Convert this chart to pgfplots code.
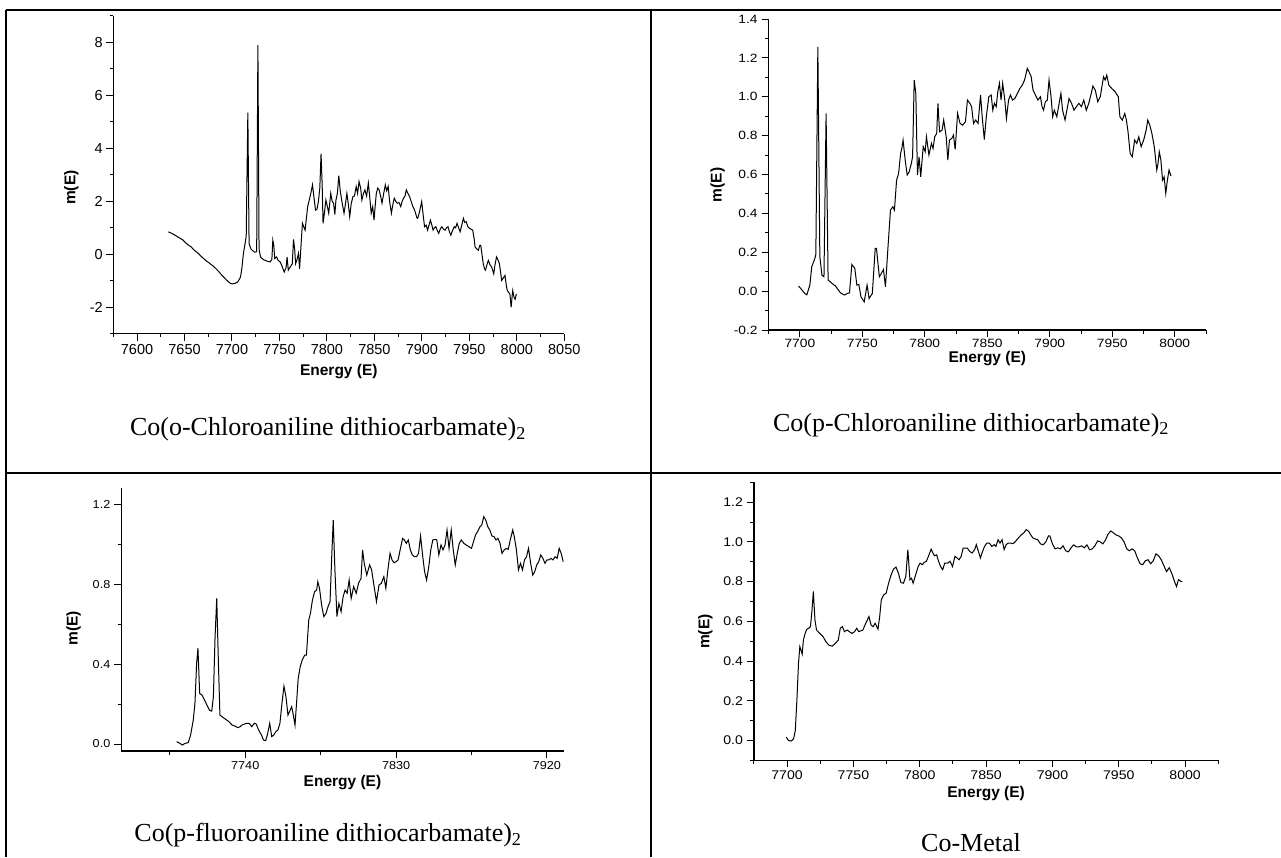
\documentclass[border=0pt]{standalone}
\usepackage{fontspec}
\setmainfont{Liberation Serif}
\newfontfamily\arial{Liberation Sans}
\usepackage{pgfplots}
\pgfplotsset{compat=1.18}

\newcommand\tickfont{\arial\fontsize{14.5}{16}\selectfont}
\newcommand\labfont{\arial\bfseries\fontsize{15.5}{17}\selectfont}
\newcommand\capfont{\fontsize{26}{30}\selectfont}

\pgfplotsset{
  xas/.style={
    scale only axis,
    axis lines=left,
    axis line style={-, line width=1.2pt},
    tick align=outside,
    major tick length=7pt,
    minor tick length=3.5pt,
    every tick/.style={black, line width=1pt},
    tick label style={font=\tickfont},
    /pgf/number format/assume math mode=true,
    xticklabel style={/pgf/number format/set thousands separator={}},
  },
  onedec/.style={yticklabel style={/pgf/number format/.cd, fixed, fixed zerofill, precision=1}},
  spec/.style={black, line width=1pt, mark=none},
}

\begin{document}
\begin{tikzpicture}
\useasboundingbox (0pt,0pt) rectangle (1281pt,-857pt);

% table rules
\draw[line width=2pt] (5.5pt,-9.5pt) -- (1281pt,-9.5pt);
\draw[line width=2pt] (5.5pt,-9.5pt) -- (5.5pt,-857pt);
\draw[line width=2pt] (651pt,-9.5pt) -- (651pt,-857pt);
\draw[line width=2pt] (5.5pt,-472.7pt) -- (1281pt,-472.7pt);

% (a) o-chloro
\begin{axis}[xas, at={(113.3pt,-333.7pt)}, anchor=south west, width=451pt, height=317.7pt,
  xmin=7575, xmax=8050, ymin=-3, ymax=9,
  xtick={7600,7650,...,8050}, minor xtick={7575,7625,...,8025},
  ytick={-2,0,...,8}, minor ytick={-3,-1,...,9}]
\addplot[spec] coordinates {
(7633,0.85)(7637,0.78)(7641,0.7)(7644,0.63)(7648,0.55)(7651,0.44)(7654,0.35)(7657,0.28)(7660,0.16)(7664,0.05)
(7667,-0.06)(7670,-0.16)(7673,-0.25)(7676,-0.33)(7680,-0.44)(7683,-0.54)(7686,-0.65)(7688,-0.74)(7691,-0.85)(7693,-0.93)
(7696,-1.03)(7698,-1.09)(7700,-1.12)(7703,-1.1)(7706,-1.05)(7709,-0.86)(7710.5,-0.5)(7712,0.03)(7714,0.45)(7715,0.7)
(7716.7,5.35)(7718,0.4)(7720,0.2)(7722,0.13)(7724,0.08)(7726,0.1)(7727.3,7.9)(7728.5,0.2)(7730,-0.1)(7733,-0.2)
(7737,-0.26)(7740,-0.29)(7742,-0.2)(7743,0.53)(7744,0.35)(7745,-0.16)(7747,-0.1)(7748.6,-0.23)(7751,-0.3)(7753,-0.48)
(7755,-0.67)(7757,-0.5)(7758,-0.1)(7759.3,-0.6)(7761,-0.5)(7763.5,-0.36)(7764.8,0.56)(7766,0.2)(7767,-0.35)(7768.5,-0.2)
(7770,0.03)(7771.2,-0.55)(7773,0.5)(7774.2,1.17)(7776,1.0)(7777,0.91)(7778.5,1.4)(7779.7,1.8)(7781.4,2.05)(7783,2.3)
(7784.8,2.62)(7786.5,2.1)(7788,1.67)(7789.5,1.7)(7791,1.99)(7792.5,2.5)(7793.8,3.8)(7795,2.6)(7795.9,1.17)(7797.5,1.6)
(7798.9,2.05)(7800.5,1.8)(7801.9,1.55)(7804,2.3)(7805.5,2.0)(7807,1.93)(7808.3,1.5)(7809.5,2.05)(7811,2.3)(7812.5,2.97)
(7814,2.4)(7815.5,2.05)(7818,1.55)(7819.5,1.9)(7821,2.3)(7822.5,1.9)(7824,1.42)(7825.5,1.9)(7827.4,2.18)(7829,2.2)
(7830.8,2.56)(7832.3,2.3)(7833.8,2.75)(7835.5,2.5)(7836.8,2.05)(7838.5,2.3)(7840,2.43)(7841.8,2.2)(7843.6,2.69)(7845,2.2)
(7846.6,1.55)(7848.2,1.8)(7849.6,1.29)(7851,1.9)(7852,2.3)(7853.5,2.5)(7855,2.43)(7856.5,2.2)(7858,1.93)(7859.8,2.3)
(7861.5,2.62)(7863,2.4)(7864.5,2.56)(7866,2.0)(7867.9,1.55)(7869.5,1.9)(7870.9,2.12)(7872.5,2.0)(7874,1.93)(7876,1.95)
(7877.7,1.8)(7879.2,2.0)(7880.7,2.12)(7882.2,2.2)(7883.6,2.43)(7885.3,2.3)(7887,2.18)(7888.7,2.0)(7890.5,1.8)(7892,1.7)
(7893.4,1.55)(7894.5,1.4)(7895.6,1.36)(7897.5,1.6)(7899.8,1.99)(7901.3,1.5)(7902.8,1.04)(7904.5,1.1)(7906,0.91)(7907.5,1.1)
(7909,1.29)(7910.5,1.1)(7911.8,0.91)(7913.2,1.0)(7914.7,1.04)(7916.2,0.9)(7917.7,0.79)(7919.3,0.95)(7921,1.04)(7922.8,0.95)
(7924.5,0.91)(7926,1.0)(7927.5,1.04)(7929,0.85)(7930.5,0.72)(7932.3,0.9)(7934,1.04)(7935.5,1.0)(7937,1.17)(7938.7,1.0)
(7940.3,0.85)(7942,1.1)(7943.7,1.36)(7945.2,1.2)(7946.7,1.23)(7948.3,1.05)(7950,0.98)(7951.8,0.95)(7953.5,0.91)(7955,0.6)
(7956,0.28)(7957.8,0.2)(7959.5,0.15)(7961,0.34)(7962,0.34)(7963.3,0.0)(7964.6,-0.35)(7966,-0.55)(7967,-0.6)(7968.5,-0.4)
(7970,-0.23)(7971.8,-0.4)(7973.5,-0.48)(7975.7,-0.74)(7977,-0.4)(7978.6,-0.1)(7980,-0.2)(7981.6,-0.35)(7983,-0.7)(7984,-0.99)
(7985.7,-0.9)(7987.5,-0.8)(7989,-1.2)(7990,-1.37)(7991.5,-1.45)(7992.7,-1.5)(7994,-2.0)(7995,-1.6)(7995.7,-1.37)(7997,-1.62)
(7998.2,-1.7)(7999.5,-1.5)
};
\end{axis}

% (b) p-chloro
\begin{axis}[xas, onedec, at={(768.6pt,-330pt)}, anchor=south west, width=437.4pt, height=311pt,
  xmin=7675, xmax=8025, ymin=-0.2, ymax=1.4,
  xtick={7700,7750,...,8000}, minor xtick={7675,7725,...,8025},
  ytick={-0.2,0,...,1.4}, minor ytick={-0.1,0.1,...,1.3},
  tick label style={font=\arial\fontsize{12}{13}\selectfont, xscale=1.15},
  xticklabel style={yshift=1.5pt}]
\addplot[spec] coordinates {
(7699,0.026)(7701.3,0.009)(7704,-0.012)(7705.6,-0.019)(7708,0.031)(7709.5,0.125)(7712,0.168)(7712.8,0.19)(7714.4,1.257)(7716,0.177)
(7717.7,0.082)(7719.3,0.074)(7721,0.914)(7722.6,0.057)(7725.2,0.043)(7728.5,0.026)(7732.5,-0.009)(7735.7,-0.02)(7738,-0.012)(7739.7,-0.009)
(7741.6,0.137)(7744,0.117)(7745.6,0.031)(7747.2,0.034)(7748.9,-0.029)(7751.5,-0.055)(7753.8,0.031)(7755.4,-0.038)(7758,-0.012)(7760.3,0.22)
(7761.3,0.22)(7763.6,0.074)(7765.2,0.091)(7766.9,0.111)(7768.5,0.022)(7770.2,0.194)(7772.5,0.417)(7774.4,0.434)(7775.7,0.417)(7777.4,0.571)
(7779,0.605)(7780.6,0.708)(7781.6,0.734)(7782.6,0.777)(7784.3,0.674)(7785.9,0.597)(7787.5,0.614)(7789.2,0.657)(7790.2,0.691)(7791.5,1.086)
(7792.8,1.017)(7794.1,0.597)(7795.4,0.691)(7796.7,0.588)(7798.7,0.743)(7800.3,0.717)(7801.3,0.794)(7803.3,0.7)(7805.3,0.76)(7806.6,0.734)
(7807.9,0.794)(7809.5,0.811)(7810.5,0.966)(7811.8,0.82)(7813.8,0.828)(7815.1,0.88)(7817.1,0.794)(7818.4,0.674)(7819.7,0.777)(7821.6,0.786)
(7822.9,0.803)(7824.3,0.729)(7826.2,0.914)(7828.2,0.863)(7830.2,0.854)(7832.5,0.871)(7834.1,0.983)(7836.1,0.966)(7837.4,0.949)(7839,0.863)
(7840.7,0.88)(7842.6,0.863)(7844.6,1.009)(7845.9,0.897)(7847.6,0.78)(7849.2,0.897)(7851.2,1.0)(7853.1,1.009)(7854.4,0.931)(7855.7,0.966)
(7857.1,0.949)(7858.4,1.026)(7859.7,1.069)(7861,0.983)(7862.3,1.069)(7864,0.983)(7865.3,0.888)(7867,0.983)(7868.5,1.009)(7870.2,0.983)
(7872.1,0.991)(7874.1,1.017)(7876.1,1.043)(7878,1.06)(7879.8,1.086)(7882,1.146)(7883.3,1.129)(7885,1.106)(7886.6,1.034)(7888.5,1.009)
(7890.5,0.983)(7892.5,1.0)(7893.8,0.949)(7895,0.931)(7896.4,0.974)(7898,0.983)(7899.4,1.086)(7901,1.0)(7902.3,0.897)(7903.6,0.931)
(7905.6,0.897)(7907.5,0.966)(7908.9,1.017)(7910.2,0.931)(7912.2,0.88)(7914.2,0.949)(7915.4,0.991)(7917.4,0.966)(7919.4,0.931)(7921.3,0.949)
(7923.3,0.966)(7925.3,0.949)(7927.2,0.983)(7929.2,0.931)(7931.2,0.966)(7932.5,1.0)(7934.5,1.055)(7936.4,1.034)(7938.4,0.974)(7940.4,1.0)
(7941.7,1.052)(7943,1.103)(7944.3,1.086)(7945.6,1.111)(7947.2,1.06)(7949.5,1.043)(7952.2,1.026)(7954.8,1.0)(7956.1,0.897)(7958,0.88)
(7960,0.914)(7961.3,0.88)(7962.6,0.82)(7964.3,0.708)(7966,0.691)(7967.9,0.777)(7969.6,0.76)(7971.2,0.794)(7973.1,0.743)(7975.1,0.777)
(7977.1,0.828)(7978.4,0.88)(7980,0.854)(7981.7,0.811)(7983.6,0.743)(7985.6,0.623)(7986.6,0.657)(7987.6,0.717)(7988.9,0.674)(7990.2,0.571)
(7991.5,0.588)(7992.8,0.503)(7994.1,0.571)(7995.4,0.623)(7997,0.592)
};
\end{axis}

% (c) p-fluoro
\begin{axis}[xas, onedec, at={(121.2pt,-751pt)}, anchor=south west, width=442.5pt, height=262.7pt,
  xmin=7666, xmax=7930, ymin=-0.035, ymax=1.282,
  xtick={7740,7830,7920}, minor xtick={7695,7785,7875},
  ytick={0,0.4,0.8,1.2}, minor ytick={0.2,0.6,1.0},
  tick label style={font=\arial\fontsize{11.5}{13}\selectfont, xscale=1.1}]
\addplot[spec] coordinates {
(7699.1,0.012)(7701.1,0.003)(7702.5,-0.005)(7704,0.003)(7706,0.007)(7707.4,0.045)(7709,0.12)(7710,0.204)(7711,0.405)(7711.8,0.48)
(7712.8,0.254)(7714.2,0.246)(7715.7,0.221)(7717.1,0.196)(7718.6,0.17)(7720,0.165)(7721,0.237)(7722,0.538)(7723,0.73)(7724,0.405)
(7724.9,0.145)(7726.6,0.134)(7728.3,0.124)(7730.3,0.112)(7732.2,0.095)(7733.9,0.09)(7735.6,0.082)(7737,0.087)(7738,0.095)(7739.5,0.1)
(7740.7,0.104)(7742.4,0.104)(7743.9,0.087)(7745.4,0.104)(7746.6,0.1)(7747.3,0.084)(7748.5,0.062)(7749.7,0.045)(7750.9,0.02)(7752.2,0.017)
(7753.4,0.053)(7754.6,0.104)(7755.8,0.037)(7757,0.045)(7758.2,0.062)(7759.5,0.07)(7760.7,0.104)(7761.9,0.204)(7763.1,0.29)(7764.3,0.237)
(7765.5,0.145)(7766.8,0.17)(7767.7,0.187)(7768.7,0.145)(7769.7,0.095)(7770.6,0.204)(7771.6,0.329)(7772.8,0.388)(7774,0.421)(7775.5,0.446)
(7776.5,0.446)(7777.9,0.622)(7778.9,0.655)(7780.1,0.722)(7781.4,0.764)(7782.6,0.772)(7783.3,0.814)(7784.3,0.781)(7785.7,0.689)(7786.9,0.639)
(7788.2,0.655)(7789.4,0.689)(7790.6,0.714)(7791.6,0.939)(7792.5,1.123)(7793.5,0.873)(7794.7,0.639)(7795.9,0.705)(7797.2,0.664)(7798.4,0.739)
(7799.6,0.772)(7800.8,0.756)(7802,0.822)(7803.2,0.73)(7804.7,0.789)(7806.2,0.756)(7807.6,0.806)(7809.1,0.831)(7810,0.973)(7811,0.906)
(7812.5,0.847)(7814.2,0.898)(7815.4,0.873)(7816.9,0.789)(7818.3,0.714)(7819.8,0.797)(7821.2,0.806)(7822.7,0.839)(7823.9,0.781)(7825.1,0.873)
(7826.4,0.956)(7827.6,0.923)(7828.8,0.909)(7830,0.914)(7831.2,0.923)(7832.4,0.973)(7833.9,1.031)(7834.9,1.023)(7836.1,1.006)(7837.3,1.023)
(7838.5,0.973)(7839.7,0.948)(7841,0.939)(7842.2,0.939)(7843.4,0.956)(7844.6,1.043)(7845.8,0.948)(7847,0.864)(7848.2,0.822)(7849.5,0.889)
(7850.7,0.973)(7851.9,1.023)(7853.4,1.026)(7854.3,1.023)(7855.5,0.948)(7856.8,0.998)(7858,0.973)(7859.2,0.998)(7860.4,1.073)(7861.6,0.981)
(7862.9,1.073)(7864.1,0.973)(7865.3,0.898)(7866.5,0.956)(7867.7,1.006)(7868.9,1.023)(7870.4,1.006)(7871.8,0.998)(7873.3,0.99)(7875,0.981)
(7876.2,1.015)(7877.4,1.048)(7878.6,1.065)(7880.1,1.09)(7881.1,1.098)(7882.3,1.14)(7883.5,1.123)(7884.7,1.09)(7885.9,1.073)(7887.2,1.043)
(7888.4,1.04)(7889.6,1.023)(7890.8,1.031)(7892,1.006)(7893.2,0.956)(7894.5,0.973)(7895.7,0.981)(7896.9,0.976)(7898.1,1.023)(7899.6,1.073)
(7900.5,1.04)(7901.8,0.973)(7903,0.873)(7904.2,0.906)(7905.4,0.873)(7906.6,0.923)(7907.8,0.939)(7909,0.981)(7910.3,0.906)(7911.5,0.847)
(7912.7,0.864)(7913.9,0.898)(7915.1,0.914)(7916.3,0.948)(7917.6,0.931)(7918.8,0.906)(7920,0.923)(7921.2,0.923)(7922.4,0.931)(7923.6,0.923)
(7924.9,0.939)(7926.1,0.931)(7927.3,0.981)(7928.5,0.956)(7929.7,0.914)
};
\end{axis}

% (d) Co metal
\begin{axis}[xas, onedec, at={(753.9pt,-760.3pt)}, anchor=south west, width=464.4pt, height=278pt,
  xmin=7675, xmax=8025, ymin=-0.1, ymax=1.3,
  xtick={7700,7750,...,8000}, minor xtick={7675,7725,...,8025},
  ytick={0,0.2,...,1.2}, minor ytick={-0.1,0.1,...,1.3},
  tick label style={font=\arial\fontsize{12.6}{14}\selectfont, xscale=1.12}]
\addplot[spec] coordinates {
(7699.4,0.017)(7701,0.0)(7703.1,-0.003)(7704.9,0.008)(7706.2,0.05)(7707.4,0.202)(7708.6,0.388)(7709.6,0.472)(7710.5,0.455)(7711.4,0.435)
(7712.3,0.506)(7713.6,0.539)(7714.8,0.56)(7716.4,0.565)(7717.6,0.573)(7718.8,0.657)(7719.8,0.75)(7721,0.607)(7722.2,0.556)(7724.7,0.539)
(7727.2,0.522)(7729.3,0.497)(7731.5,0.48)(7734,0.475)(7736.4,0.489)(7738.6,0.506)(7740.1,0.565)(7741.7,0.573)(7743.2,0.548)(7745.4,0.556)
(7746.9,0.548)(7748.8,0.539)(7750.9,0.548)(7752.5,0.565)(7754,0.548)(7757.1,0.556)(7759.3,0.59)(7761.7,0.624)(7763.3,0.581)(7764.8,0.573)
(7766.4,0.59)(7768.5,0.56)(7769.8,0.624)(7771,0.708)(7772.8,0.733)(7774.7,0.742)(7776.5,0.792)(7778.4,0.834)(7780.2,0.863)(7782.1,0.873)
(7783.9,0.843)(7785.8,0.795)(7787.7,0.792)(7789.5,0.826)(7791,0.961)(7792.6,0.809)(7793.8,0.817)(7795,0.792)(7796.9,0.834)(7798.8,0.876)
(7800.3,0.893)(7801.9,0.885)(7803.4,0.897)(7805,0.902)(7806.5,0.927)(7808.6,0.964)(7809.9,0.944)(7811.1,0.93)(7812.7,0.935)(7814.2,0.902)
(7815.7,0.876)(7817.3,0.86)(7818.8,0.893)(7821,0.893)(7822.8,0.902)(7824.7,0.876)(7826.5,0.927)(7828.1,0.919)(7829.6,0.91)(7831.2,0.927)
(7832.7,0.969)(7834.3,0.969)(7835.8,0.969)(7837.6,0.952)(7839.5,0.944)(7841.4,0.961)(7842.6,0.986)(7843.8,0.961)(7845.7,0.919)(7846.9,0.944)
(7848.8,0.977)(7850.6,0.994)(7852.5,0.994)(7854.3,0.977)(7856.2,0.986)(7857.4,0.977)(7859,1.011)(7860.5,0.994)(7862,1.011)(7863.6,0.961)
(7865.1,0.986)(7866.7,0.994)(7868.5,0.994)(7870.4,0.991)(7872.2,1.003)(7874.4,1.02)(7876.5,1.036)(7878.4,1.045)(7880.2,1.062)(7882.1,1.053)
(7883.6,1.036)(7885.2,1.02)(7887,1.015)(7888.9,1.011)(7891,0.99)(7893,0.985)(7895,1.0)(7897,1.03)(7898,1.03)(7900,0.99)
(7902,0.965)(7904,0.97)(7906,0.965)(7908,0.98)(7910,0.955)(7912,0.95)(7914,0.97)(7916,0.985)(7918,0.975)(7920,0.975)
(7922,0.98)(7924,0.97)(7926,0.985)(7928,0.96)(7930,0.965)(7932,0.98)(7934,1.005)(7936,1.0)(7938,0.99)(7940,1.01)
(7942,1.04)(7944,1.055)(7946,1.045)(7948,1.035)(7950,1.03)(7952,1.02)(7954,1.0)(7956,0.965)(7958,0.955)(7960,0.965)
(7962,0.955)(7964,0.92)(7966,0.89)(7968,0.885)(7970,0.905)(7972,0.91)(7974,0.89)(7976,0.905)(7978,0.94)(7980,0.93)
(7982,0.91)(7984,0.88)(7986,0.85)(7988,0.87)(7990,0.84)(7992,0.80)(7993.5,0.775)(7995,0.81)(7997,0.80)(7998,0.80)
};
\end{axis}

% axis titles
\node[font=\labfont, anchor=base] at (338.8pt,-375pt) {Energy (E)};
\node[font=\labfont, anchor=base] at (987.3pt,-362pt) {Energy (E)};
\node[font=\labfont, anchor=base] at (342.5pt,-786.5pt) {Energy (E)};
\node[font=\labfont, anchor=base] at (986.1pt,-797pt) {Energy (E)};
\node[font=\labfont, rotate=90] at (71.4pt,-187.7pt) {m(E)};
\node[font=\labfont, rotate=90] at (717.6pt,-185pt) {m(E)};
\node[font=\labfont, rotate=90] at (73.5pt,-628.3pt) {m(E)};
\node[font=\labfont, rotate=90] at (705.3pt,-631.7pt) {m(E)};

% captions
\node[font=\capfont, anchor=base] at (328pt,-435.7pt) {Co(o-Chloroaniline dithiocarbamate)\textsubscript{2}};
\node[font=\capfont, anchor=base] at (971pt,-431pt) {Co(p-Chloroaniline dithiocarbamate)\textsubscript{2}};
\node[font=\capfont, anchor=base] at (328pt,-841.7pt) {Co(p-fluoroaniline dithiocarbamate)\textsubscript{2}};
\node[font=\capfont, anchor=base] at (971pt,-851.7pt) {Co-Metal};
\end{tikzpicture}
\end{document}
